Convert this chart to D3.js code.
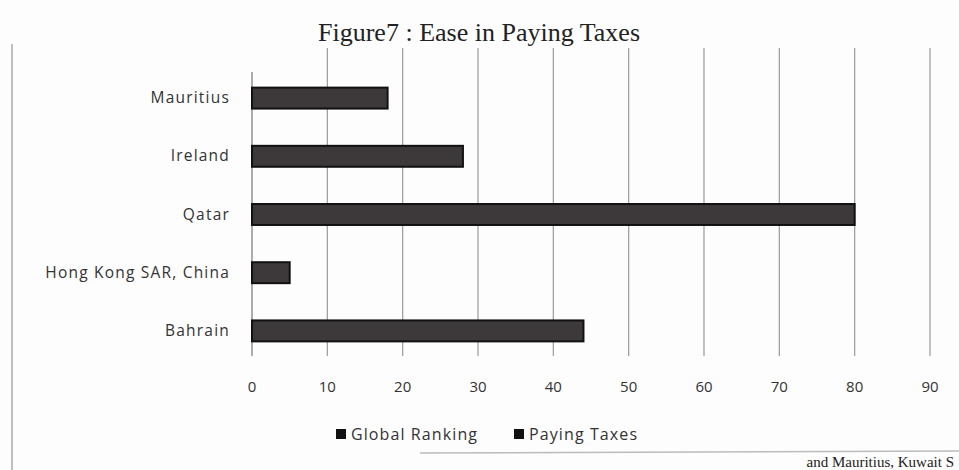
<!DOCTYPE html>
<html><head><meta charset="utf-8">
<script src="https://cdn.jsdelivr.net/npm/d3@7"></script>
<style>body{margin:0;background:#fff}svg{display:block}</style>
</head><body>
<svg id="c" width="959" height="470"></svg>
<script>
const categories = ["Mauritius","Ireland","Qatar","Hong Kong SAR, China","Bahrain"];
const values = [18, 28, 80, 5, 44];
const ticks = [0,10,20,30,40,50,60,70,80,90];
const legendLabels = ["Global Ranking","Paying Taxes"];
const title = "Figure7 : Ease in Paying Taxes";
const footerText = "and Mauritius, Kuwait S";

const svg = d3.select("#c");
const x = d3.scaleLinear().domain([0,90]).range([252,930]);
const y = d3.scaleBand().domain(categories).range([69,360]).paddingInner(0.64).paddingOuter(0.32);
const sans = "Open Sans, sans-serif";

svg.append("rect").attr("width",959).attr("height",470).attr("fill","#fdfdfd");

// title
svg.append("text").attr("x",479).attr("y",41).attr("text-anchor","middle")
  .attr("font-family","Liberation Serif, serif").attr("font-size",25).attr("fill","#222")
  .attr("textLength",322).attr("lengthAdjust","spacingAndGlyphs").text(title);

// chart border left
svg.append("line").attr("x1",12).attr("x2",12).attr("y1",44).attr("y2",470).attr("stroke","#aaa").attr("stroke-width",1.5);

// gridlines
svg.append("g").selectAll("line").data(ticks).join("line")
  .attr("x1",d=>x(d)).attr("x2",d=>x(d)).attr("y1",d=> d===0?72:48).attr("y2",356)
  .attr("stroke",d=>d===0?"#777":"#9a9a9a").attr("stroke-width",1.2);

// x tick labels
svg.append("g").selectAll("text").data(ticks).join("text")
  .attr("x",d=>x(d)).attr("y",392).attr("text-anchor","middle")
  .attr("font-family",sans).attr("font-size",15).attr("fill","#333").text(d=>d);

// bars
svg.append("g").selectAll("rect").data(categories).join("rect")
  .attr("x",x(0)).attr("y",d=>y(d)).attr("height",y.bandwidth())
  .attr("width",(d,i)=>x(values[i])-x(0))
  .attr("fill","#3d393a").attr("stroke","#111").attr("stroke-width",2);

// category labels
svg.append("g").selectAll("text").data(categories).join("text")
  .attr("x",230).attr("y",d=>y(d)+y.bandwidth()/2+5).attr("text-anchor","end")
  .attr("font-family",sans).attr("font-size",15.5).attr("letter-spacing",1.2).attr("fill","#333").text(d=>d);

// legend
const lg = svg.append("g").attr("font-family",sans).attr("font-size",16).attr("letter-spacing",1.1).attr("fill","#333");
const lx = [336,514];
legendLabels.forEach((t,i)=>{
  lg.append("rect").attr("x",lx[i]).attr("y",429).attr("width",10).attr("height",10).attr("fill","#111");
  lg.append("text").attr("x",lx[i]+15).attr("y",440).text(t);
});

// page text below the figure
svg.append("line").attr("x1",420).attr("x2",959).attr("y1",453).attr("y2",451).attr("stroke","#bbb").attr("stroke-width",1.5);
svg.append("text").attr("x",954).attr("y",467).attr("text-anchor","end")
  .attr("font-family","Liberation Serif, serif").attr("font-size",15).attr("fill","#222").text(footerText);
</script>
</body></html>
